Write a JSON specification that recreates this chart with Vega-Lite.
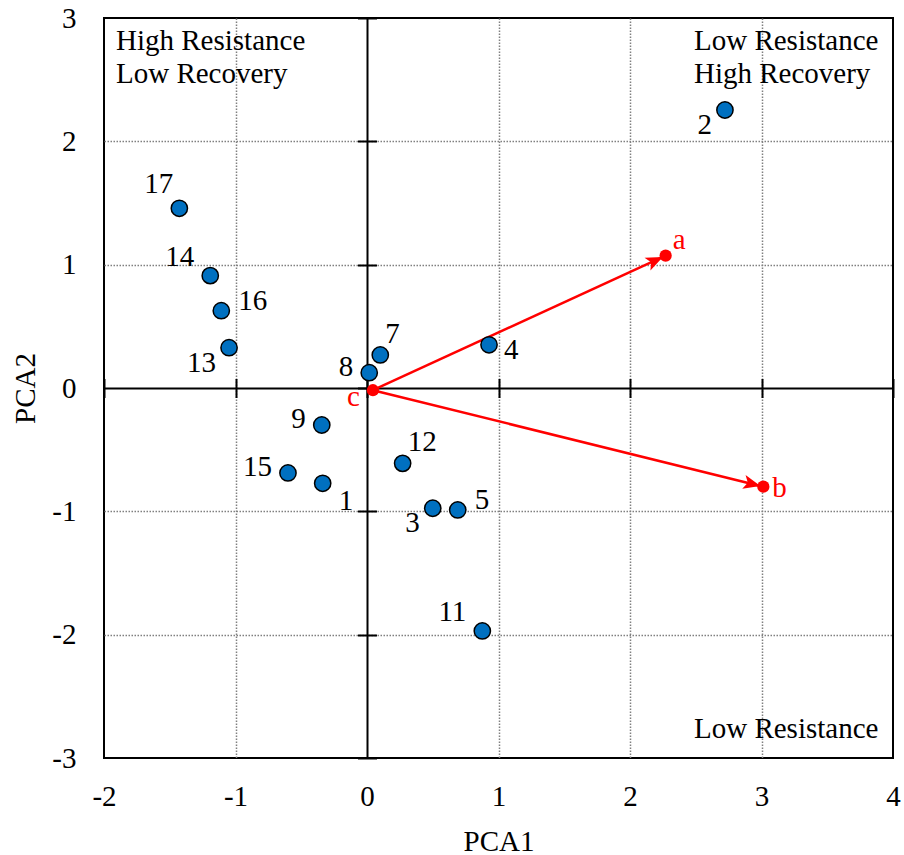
{
  "$schema": "https://vega.github.io/schema/vega-lite/v6.json",
  "width": 789,
  "height": 740,
  "autosize": {"type": "none"},
  "padding": {"left": 104, "top": 18, "right": 11, "bottom": 97},
  "config": {
    "font": "Liberation Serif",
    "view": {"stroke": "black", "strokeWidth": 2},
    "axis": {
      "labelFont": "Liberation Serif",
      "titleFont": "Liberation Serif",
      "labelColor": "black",
      "titleColor": "black",
      "labelFontSize": 29,
      "titleFontSize": 29,
      "titleFontWeight": "normal",
      "labelFlush": false,
      "labelOverlap": false,
      "labelBound": false
    }
  },
  "datasets": {
    "sites": [
      {"id": "1", "PCA1": -0.337, "PCA2": -0.773},
      {"id": "2", "PCA1": 2.722, "PCA2": 2.254},
      {"id": "3", "PCA1": 0.5, "PCA2": -0.975},
      {"id": "4", "PCA1": 0.928, "PCA2": 0.35},
      {"id": "5", "PCA1": 0.69, "PCA2": -0.989},
      {"id": "7", "PCA1": 0.101, "PCA2": 0.268},
      {"id": "8", "PCA1": 0.017, "PCA2": 0.124},
      {"id": "9", "PCA1": -0.344, "PCA2": -0.3},
      {"id": "11", "PCA1": 0.877, "PCA2": -1.97},
      {"id": "12", "PCA1": 0.271, "PCA2": -0.611},
      {"id": "13", "PCA1": -1.049, "PCA2": 0.327},
      {"id": "14", "PCA1": -1.192, "PCA2": 0.911},
      {"id": "15", "PCA1": -0.601, "PCA2": -0.689},
      {"id": "16", "PCA1": -1.108, "PCA2": 0.627},
      {"id": "17", "PCA1": -1.427, "PCA2": 1.457}
    ],
    "variables": [
      {"name": "a", "PCA1": 2.271, "PCA2": 1.073},
      {"name": "b", "PCA1": 3.014, "PCA2": -0.8},
      {"name": "c", "PCA1": 0.045, "PCA2": -0.018}
    ],
    "vectors": [
      {"from": "c", "to": "a", "x0": 0.045, "y0": -0.018, "x1": 2.271, "y1": 1.073},
      {"from": "c", "to": "b", "x0": 0.045, "y0": -0.018, "x1": 3.014, "y1": -0.8}
    ]
  },
  "layer": [
    {
      "data": {"name": "vectors"},
      "mark": {"type": "rule", "color": "#FF0000", "strokeWidth": 2.5},
      "encoding": {
        "x": {
          "field": "x0", "type": "quantitative",
          "scale": {"domain": [-2, 4], "nice": false, "zero": false},
          "axis": {
            "orient": "bottom", "values": [-2, -1, 0, 1, 2, 3, 4], "offset": -360.5,
            "domain": false, "labels": false, "grid": false, "ticks": true,
            "tickSize": -19, "tickWidth": 2, "tickColor": "black", "title": null
          }
        },
        "y": {
          "field": "y0", "type": "quantitative",
          "scale": {"domain": [-3, 3], "nice": false, "zero": false},
          "axis": {
            "orient": "left", "values": [-3, -2, -1, 0, 1, 2, 3], "offset": -253.5,
            "domain": false, "labels": false, "grid": false, "ticks": true,
            "tickSize": -19, "tickWidth": 2, "tickColor": "black", "title": null
          }
        },
        "x2": {"field": "x1"},
        "y2": {"field": "y1"}
      }
    },
    {
      "data": {"name": "vectors"},
      "transform": [{"filter": "datum.to === 'a'"}],
      "mark": {"type": "point", "shape": "M-0.3,0 L-2,-0.7 L-1.6,0 L-2,0.7 Z", "size": 400, "filled": true, "color": "#FF0000", "opacity": 1, "angle": -24.8},
      "encoding": {
        "x": {"field": "x1", "type": "quantitative", "axis": null},
        "y": {"field": "y1", "type": "quantitative", "axis": null}
      }
    },
    {
      "data": {"name": "vectors"},
      "transform": [{"filter": "datum.to === 'b'"}],
      "mark": {"type": "point", "shape": "M-0.3,0 L-2,-0.7 L-1.6,0 L-2,0.7 Z", "size": 400, "filled": true, "color": "#FF0000", "opacity": 1, "angle": 13.8},
      "encoding": {
        "x": {"field": "x1", "type": "quantitative", "axis": null},
        "y": {"field": "y1", "type": "quantitative", "axis": null}
      }
    },
    {
      "data": {"name": "sites"},
      "mark": {"type": "circle", "size": 265, "fill": "#0070C0", "stroke": "black", "strokeWidth": 1.5, "opacity": 1},
      "encoding": {
        "x": {
          "field": "PCA1", "type": "quantitative",
          "axis": {
            "orient": "bottom", "values": [-2, -1, 0, 1, 2, 3, 4], "title": "PCA1",
            "domain": false, "ticks": false, "tickSize": 0, "labelPadding": 24, "titlePadding": 16,
            "labelExpr": "'' + datum.value",
            "grid": true,
            "gridColor": {"condition": {"test": "datum.value === 0", "value": "black"}, "value": "#808080"},
            "gridDash": {"condition": {"test": "datum.value === 0", "value": []}, "value": [1.5, 1.5]},
            "gridWidth": {"condition": {"test": "datum.value === 0", "value": 2}, "value": 1.5},
            "gridOpacity": {"condition": {"test": "datum.value === -2 || datum.value === 4", "value": 0}, "value": 1}
          }
        },
        "y": {
          "field": "PCA2", "type": "quantitative",
          "axis": {
            "orient": "left", "values": [-3, -2, -1, 0, 1, 2, 3], "title": "PCA2",
            "domain": false, "ticks": false, "tickSize": 0, "labelPadding": 28, "titlePadding": 11,
            "labelExpr": "'' + datum.value",
            "grid": true,
            "gridColor": {"condition": {"test": "datum.value === 0", "value": "black"}, "value": "#808080"},
            "gridDash": {"condition": {"test": "datum.value === 0", "value": []}, "value": [1.5, 1.5]},
            "gridWidth": {"condition": {"test": "datum.value === 0", "value": 2}, "value": 1.5},
            "gridOpacity": {"condition": {"test": "datum.value === -3 || datum.value === 3", "value": 0}, "value": 1}
          }
        }
      }
    },
    {
      "data": {"name": "variables"},
      "mark": {"type": "circle", "size": 150, "color": "#FF0000", "opacity": 1},
      "encoding": {
        "x": {"field": "PCA1", "type": "quantitative", "axis": null},
        "y": {"field": "PCA2", "type": "quantitative", "axis": null}
      }
    },
    {
      "data": {"name": "sites"},
      "transform": [{"filter": {"field": "id", "oneOf": ["17"]}}],
      "mark": {"type": "text", "fontSize": 29, "color": "black", "align": "right", "baseline": "alphabetic", "dx": -6, "dy": -15},
      "encoding": {
        "x": {"field": "PCA1", "type": "quantitative", "axis": null},
        "y": {"field": "PCA2", "type": "quantitative", "axis": null},
        "text": {"field": "id"}
      }
    },
    {
      "data": {"name": "sites"},
      "transform": [{"filter": {"field": "id", "oneOf": ["14", "11"]}}],
      "mark": {"type": "text", "fontSize": 29, "color": "black", "align": "right", "baseline": "alphabetic", "dx": -16, "dy": -10},
      "encoding": {
        "x": {"field": "PCA1", "type": "quantitative", "axis": null},
        "y": {"field": "PCA2", "type": "quantitative", "axis": null},
        "text": {"field": "id"}
      }
    },
    {
      "data": {"name": "sites"},
      "transform": [{"filter": {"field": "id", "oneOf": ["8", "9", "15"]}}],
      "mark": {"type": "text", "fontSize": 29, "color": "black", "align": "right", "baseline": "alphabetic", "dx": -16, "dy": 3},
      "encoding": {
        "x": {"field": "PCA1", "type": "quantitative", "axis": null},
        "y": {"field": "PCA2", "type": "quantitative", "axis": null},
        "text": {"field": "id"}
      }
    },
    {
      "data": {"name": "sites"},
      "transform": [{"filter": {"field": "id", "oneOf": ["13", "2", "3"]}}],
      "mark": {"type": "text", "fontSize": 29, "color": "black", "align": "right", "baseline": "alphabetic", "dx": -13, "dy": 24},
      "encoding": {
        "x": {"field": "PCA1", "type": "quantitative", "axis": null},
        "y": {"field": "PCA2", "type": "quantitative", "axis": null},
        "text": {"field": "id"}
      }
    },
    {
      "data": {"name": "sites"},
      "transform": [{"filter": {"field": "id", "oneOf": ["16", "5"]}}],
      "mark": {"type": "text", "fontSize": 29, "color": "black", "align": "left", "baseline": "alphabetic", "dx": 17, "dy": -1},
      "encoding": {
        "x": {"field": "PCA1", "type": "quantitative", "axis": null},
        "y": {"field": "PCA2", "type": "quantitative", "axis": null},
        "text": {"field": "id"}
      }
    },
    {
      "data": {"name": "sites"},
      "transform": [{"filter": {"field": "id", "oneOf": ["4"]}}],
      "mark": {"type": "text", "fontSize": 29, "color": "black", "align": "left", "baseline": "alphabetic", "dx": 15, "dy": 14},
      "encoding": {
        "x": {"field": "PCA1", "type": "quantitative", "axis": null},
        "y": {"field": "PCA2", "type": "quantitative", "axis": null},
        "text": {"field": "id"}
      }
    },
    {
      "data": {"name": "sites"},
      "transform": [{"filter": {"field": "id", "oneOf": ["1"]}}],
      "mark": {"type": "text", "fontSize": 29, "color": "black", "align": "left", "baseline": "alphabetic", "dx": 16, "dy": 27},
      "encoding": {
        "x": {"field": "PCA1", "type": "quantitative", "axis": null},
        "y": {"field": "PCA2", "type": "quantitative", "axis": null},
        "text": {"field": "id"}
      }
    },
    {
      "data": {"name": "sites"},
      "transform": [{"filter": {"field": "id", "oneOf": ["7", "12"]}}],
      "mark": {"type": "text", "fontSize": 29, "color": "black", "align": "left", "baseline": "alphabetic", "dx": 5, "dy": -12},
      "encoding": {
        "x": {"field": "PCA1", "type": "quantitative", "axis": null},
        "y": {"field": "PCA2", "type": "quantitative", "axis": null},
        "text": {"field": "id"}
      }
    },
    {
      "data": {"name": "variables"},
      "transform": [{"filter": {"field": "name", "oneOf": ["a"]}}],
      "mark": {"type": "text", "fontSize": 29, "color": "#FF0000", "align": "left", "baseline": "alphabetic", "dx": 7, "dy": -7},
      "encoding": {
        "x": {"field": "PCA1", "type": "quantitative", "axis": null},
        "y": {"field": "PCA2", "type": "quantitative", "axis": null},
        "text": {"field": "name"}
      }
    },
    {
      "data": {"name": "variables"},
      "transform": [{"filter": {"field": "name", "oneOf": ["b"]}}],
      "mark": {"type": "text", "fontSize": 29, "color": "#FF0000", "align": "left", "baseline": "alphabetic", "dx": 9, "dy": 10},
      "encoding": {
        "x": {"field": "PCA1", "type": "quantitative", "axis": null},
        "y": {"field": "PCA2", "type": "quantitative", "axis": null},
        "text": {"field": "name"}
      }
    },
    {
      "data": {"name": "variables"},
      "transform": [{"filter": {"field": "name", "oneOf": ["c"]}}],
      "mark": {"type": "text", "fontSize": 29, "color": "#FF0000", "align": "right", "baseline": "alphabetic", "dx": -13, "dy": 16},
      "encoding": {
        "x": {"field": "PCA1", "type": "quantitative", "axis": null},
        "y": {"field": "PCA2", "type": "quantitative", "axis": null},
        "text": {"field": "name"}
      }
    },
    {
      "data": {"values": [{}]},
      "mark": {"type": "text", "fontSize": 29, "color": "black", "align": "left", "baseline": "alphabetic", "lineHeight": 33, "dx": 12, "dy": 32, "text": ["High Resistance", "Low Recovery"]},
      "encoding": {
        "x": {"datum": -2, "type": "quantitative", "axis": null},
        "y": {"datum": 3, "type": "quantitative", "axis": null}
      }
    },
    {
      "data": {"values": [{}]},
      "mark": {"type": "text", "fontSize": 29, "color": "black", "align": "left", "baseline": "alphabetic", "lineHeight": 33, "dx": 64, "dy": 32, "text": ["Low Resistance", "High Recovery"]},
      "encoding": {
        "x": {"datum": 2, "type": "quantitative", "axis": null},
        "y": {"datum": 3, "type": "quantitative", "axis": null}
      }
    },
    {
      "data": {"values": [{}]},
      "mark": {"type": "text", "fontSize": 29, "color": "black", "align": "left", "baseline": "alphabetic", "dx": 64, "dy": -20, "text": "Low Resistance"},
      "encoding": {
        "x": {"datum": 2, "type": "quantitative", "axis": null},
        "y": {"datum": -3, "type": "quantitative", "axis": null}
      }
    }
  ],
  "resolve": {"axis": {"x": "independent", "y": "independent"}}
}
